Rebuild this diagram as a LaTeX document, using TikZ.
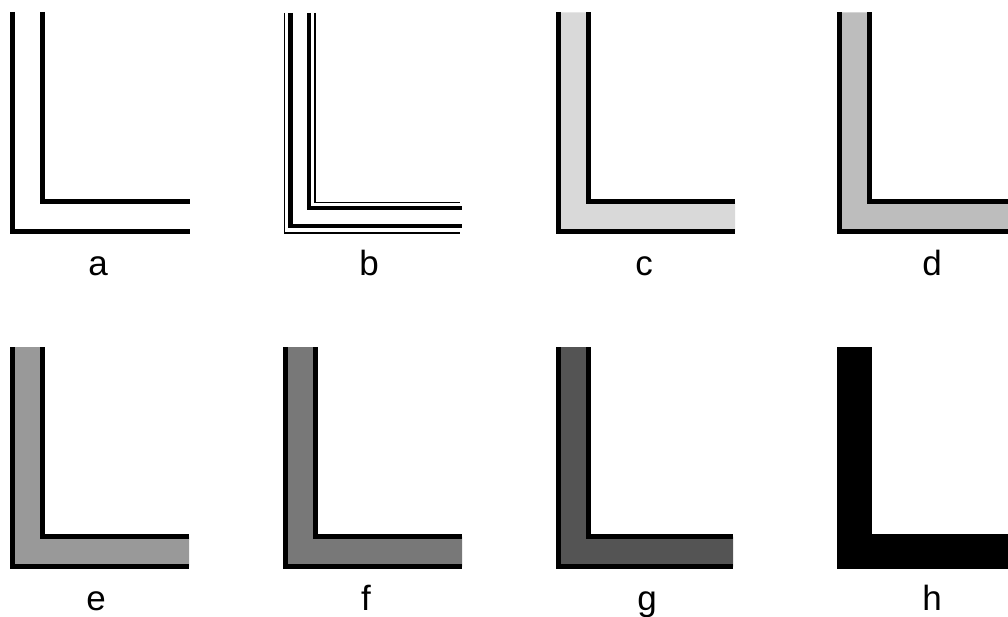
\documentclass[tikz,border=0pt]{standalone}
\usepackage{fontspec}
\setmainfont{Liberation Sans}
\begin{document}
\begin{tikzpicture}[x=1pt,y=-1pt,
  lshape/.style={line width=5pt,line join=miter,line cap=butt,black},
  thickl/.style={line width=4.5pt,line join=miter,black},
  thinl/.style={line width=1.6pt,line join=miter,black},
  lab/.style={anchor=base,inner sep=0pt,font=\fontsize{35}{40}\selectfont}]
\useasboundingbox (0,0) rectangle (1008,617);
\clip (0,0) rectangle (1008,617);
\definecolor{gc}{gray}{0.85}
\definecolor{gd}{gray}{0.74}
\definecolor{ge}{gray}{0.60}
\definecolor{gf}{gray}{0.47}
\definecolor{gg}{gray}{0.33}
\newcommand{\drawLshape}[5]{%
  \fill[#5] (#1,#2) -- (#1,#3) -- (#4,#3) -- (#4,#3-30) -- (#1+30,#3-30) -- (#1+30,#2) -- cycle;
  \draw[lshape] (#1,#2) |- (#4,#3);
  \draw[lshape] (#1+30,#2) |- (#4,#3-30);}
% row 1
\drawLshape{12}{12}{232}{190}{white}
\draw[thinl] (284.3,13) |- (460,233);
\draw[thickl] (290.5,13) |- (462,226);
\draw[thickl] (309,13) |- (462,208);
\draw[thinl] (315,13) |- (460,202.5);
\drawLshape{558}{12.5}{232}{735}{gc}
\drawLshape{839.5}{12.5}{232}{1020}{gd}
% row 2
\drawLshape{12}{347}{566.5}{189}{ge}
\drawLshape{285.5}{347}{566.5}{462}{gf}
\drawLshape{558}{347}{566.5}{733}{gg}
\drawLshape{839.5}{347}{566}{1020}{black}
% labels
\node[lab] (la) at (98,276) {a};
\node[lab] (lb) at (369,276) {b};
\node[lab] (lc) at (644,276) {c};
\node[lab] (ld) at (932,276) {d};
\node[lab] (le) at (96,610) {e};
\node[lab] (lf) at (366,610) {f};
\node[lab] (lg) at (647,610) {g};
\node[lab] (lh) at (932,610) {h};
\end{tikzpicture}
\end{document}
